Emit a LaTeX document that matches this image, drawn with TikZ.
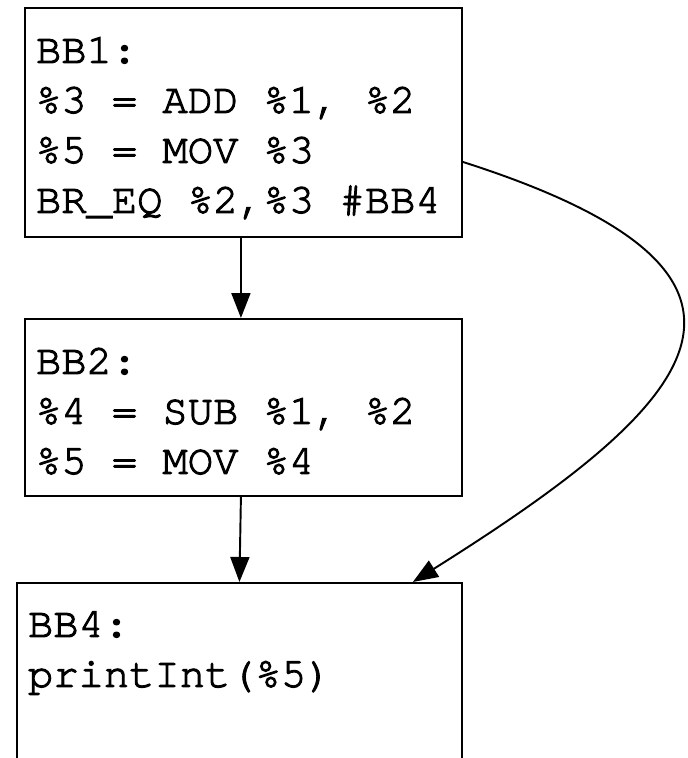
\documentclass[tikz,border=0pt]{standalone}
\usepackage{fontspec}
\setmonofont[FakeBold=2.5]{TeX Gyre Cursor}
\usepackage{tikz}
\usetikzlibrary{positioning,arrows.meta}

% code font, spaces as wide as the letters
\newcommand\codefont{\fontsize{24}{28.45}\selectfont\ttfamily}
\newcommand\codespaces{\spaceskip=14.4pt\relax\xspaceskip=14.4pt\relax}

\begin{document}
\begin{tikzpicture}[x=0.02cm,y=-0.02cm,line width=1.1pt,
    block/.style={draw,rectangle,anchor=north west,align=left,inner xsep=0.22cm,inner ysep=0pt,
      text height=1.1cm,font=\codefont,execute at begin node=\codespaces},
    edge/.style={-{Triangle[length=0.5cm,width=0.38cm]}}]
    \useasboundingbox (0,0) rectangle (687,758);
    \node[block,text width=8.3cm,text depth=3.48cm] (bb1) at (24,7) {BB1:\\\%3 = ADD \%1, \%2\\\%5 = MOV \%3\\BR\_EQ \%2,\%3 \#BB4};
    \node[block,text width=8.3cm,text depth=2.44cm] (bb2) at (24,318) {BB2:\\\%4 = SUB \%1, \%2\\\%5 = MOV \%4};
    \node[block,text width=8.46cm,text height=1.08cm,text depth=3.5cm] (bb4) at (16,582) {BB4:\\printInt(\%5)};

    \draw[edge] ([xshift=-0.05cm]bb1.south) -- ([xshift=-0.05cm]bb2.north);
    \draw[edge] ([xshift=-0.05cm]bb2.south) -- (bb4.north);
    \draw[edge] ([yshift=-0.79cm]bb1.east) .. controls +(360,115) and +(280,-176) .. ([xshift=-1cm]bb4.north east);
\end{tikzpicture}
\end{document}
